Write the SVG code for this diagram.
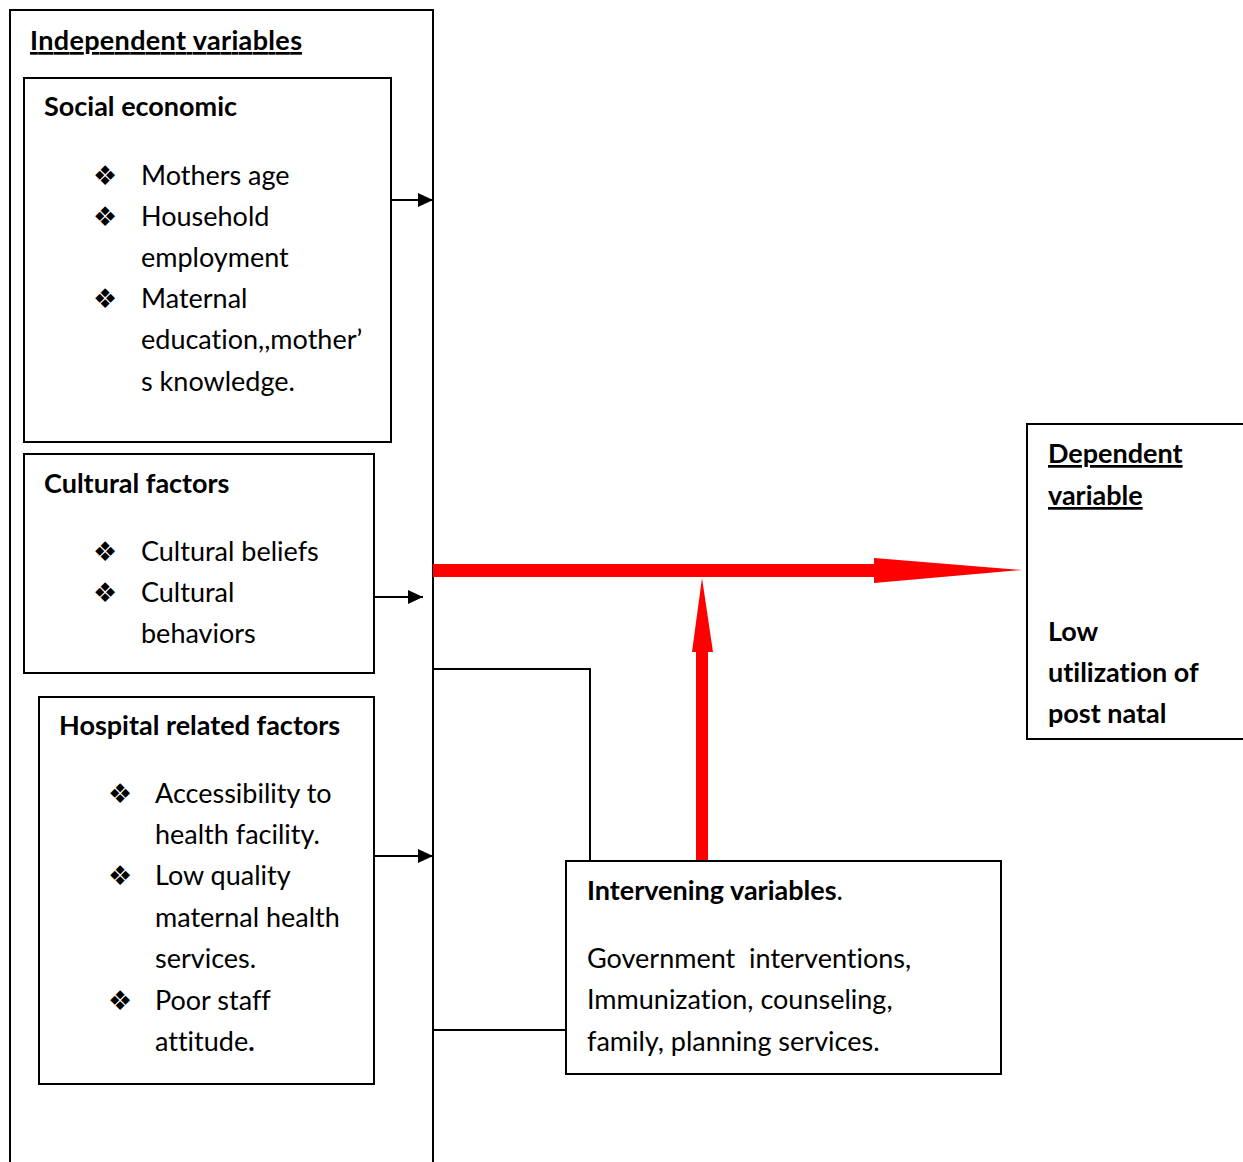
<svg xmlns="http://www.w3.org/2000/svg" width="1243" height="1162" viewBox="0 0 1243 1162">
<style>
text{font-family:Lato,"Open Sans","Liberation Sans",sans-serif;font-size:27px;fill:#000;font-variant-ligatures:none}
.b{font-weight:bold}
.u{text-decoration:underline}
.bul{font-family:"DejaVu Sans",sans-serif;font-size:27px}
.box{fill:#fff;stroke:#000;stroke-width:2}
.ln{fill:none;stroke:#000;stroke-width:2}
</style>
<defs>
<marker id="ah" markerWidth="16" markerHeight="16" refX="15" refY="7" orient="auto" markerUnits="userSpaceOnUse">
<path d="M0,0 L15,7 L0,14 Z" fill="#000"/>
</marker>
</defs>
<g id="independent">
<path class="ln" d="M10,1162 V10 H433 V1162"/>
<text x="30" y="50" class="b u" textLength="272">Independent variables</text>
</g>
<g id="social">
<rect class="box" x="24" y="78" width="367" height="364"/>
<text x="44" y="116" class="b">Social economic</text>
<text x="93" y="185" class="bul">❖</text>
<text x="141" y="185">Mothers age</text>
<text x="93" y="226" class="bul">❖</text>
<text x="141" y="226">Household</text>
<text x="141" y="267">employment</text>
<text x="93" y="308" class="bul">❖</text>
<text x="141" y="308">Maternal</text>
<text x="141" y="349">education,,mother’</text>
<text x="141" y="391">s knowledge.</text>
</g>
<g id="cultural">
<rect class="box" x="24" y="454" width="350" height="219"/>
<text x="44" y="493" class="b">Cultural factors</text>
<text x="93" y="561" class="bul">❖</text>
<text x="141" y="561">Cultural beliefs</text>
<text x="93" y="602" class="bul">❖</text>
<text x="141" y="602">Cultural</text>
<text x="141" y="643">behaviors</text>
</g>
<g id="hospital">
<rect class="box" x="39" y="697" width="335" height="387"/>
<text x="59" y="735" class="b">Hospital related factors</text>
<text x="108" y="803" class="bul">❖</text>
<text x="155" y="803">Accessibility to</text>
<text x="155" y="844">health facility.</text>
<text x="108" y="885" class="bul">❖</text>
<text x="155" y="885">Low quality</text>
<text x="155" y="927">maternal health</text>
<text x="155" y="968">services.</text>
<text x="108" y="1010" class="bul">❖</text>
<text x="155" y="1010">Poor staff</text>
<text x="155" y="1051">attitude<tspan class="b">.</tspan></text>
</g>
<g id="intervening">
<rect class="box" x="566" y="861" width="435" height="213"/>
<text x="587" y="900"><tspan class="b">Intervening variables</tspan>.</text>
<text x="587" y="968" xml:space="preserve">Government  interventions,</text>
<text x="587" y="1009">Immunization, counseling,</text>
<text x="587" y="1051">family, planning services.</text>
</g>
<g id="dependent">
<path class="box" d="M1245,424 H1027 V739 H1245"/>
<text x="1048" y="463" class="b u">Dependent</text>
<text x="1048" y="505" class="b u">variable</text>
<text x="1048" y="641" class="b">Low</text>
<text x="1048" y="682" class="b">utilization of</text>
<text x="1048" y="723" class="b">post natal</text>
</g>
<g id="connectors">
<line class="ln" x1="391" y1="200" x2="433" y2="200" marker-end="url(#ah)"/>
<line class="ln" x1="374" y1="597" x2="423" y2="597" marker-end="url(#ah)"/>
<line class="ln" x1="374" y1="856" x2="433" y2="856" marker-end="url(#ah)"/>
<path class="ln" d="M433,669 H590 V861"/>
<line class="ln" x1="433" y1="1030" x2="566" y2="1030"/>
<path d="M433,564 H874 V558 L1022,570 L874,583 V577 H433 Z" fill="#f00"/>
<path d="M696,860 V652 H692 L702,578 L713,652 H708 V860 Z" fill="#f00"/>
</g>
</svg>
